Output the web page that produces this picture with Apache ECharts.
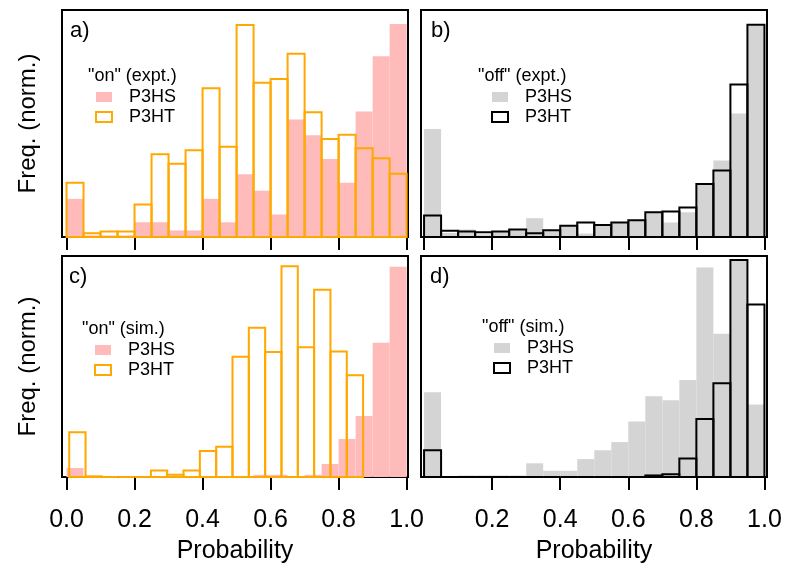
<!DOCTYPE html>
<html>
<head>
<meta charset="utf-8">
<title>Probability histograms</title>
<script src="https://cdn.jsdelivr.net/npm/echarts@6/dist/echarts.min.js"></script>
<style>
  html, body { margin: 0; padding: 0; background: #fff; }
  #main { width: 786px; height: 565px; }
</style>
</head>
<body>
<div id="main"></div>
<script>
// bin edges (probability)
var binEdges = [0, 0.05, 0.1, 0.15, 0.2, 0.25, 0.3, 0.35, 0.4, 0.45, 0.5,
  0.55, 0.6, 0.65, 0.7, 0.75, 0.8, 0.85, 0.9, 0.95, 1.0];
// P3HT simulated "on" histogram uses slightly narrower bins
var simOnHTEdges = [0.008, 0.056, 0.104, 0.152, 0.2, 0.248, 0.296, 0.344, 0.392, 0.44,
  0.488, 0.536, 0.584, 0.632, 0.68, 0.728, 0.776, 0.824, 0.872];

var xTicks = [0, 0.2, 0.4, 0.6, 0.8, 1.0];
var xTicksNoZero = [0.2, 0.4, 0.6, 0.8, 1.0];

/* a) "on" (expt.) */
var onExptHS = [16.8, 0.7, 0.7, 0.7, 6.5, 6.5, 2.9, 2.9, 16.8, 6.5, 27.6, 20.4, 9.9, 51.8, 44.8, 34.4, 23.9, 55.3, 79.6, 93.8];
var onExptHT = [23.9, 1.6, 2.4, 2.4, 14.3, 36.4, 32.3, 38.2, 65.5, 39.8, 93.4, 68.0, 69.6, 80.7, 55.0, 43.2, 45.0, 39.1, 34.7, 27.9];
/* b) "off" (expt.) */
var offExptHS = [47.6, 1.8, 3.3, 1.2, 2.4, 3.0, 8.3, 2.7, 4.7, 1.5, 5.0, 6.1, 7.1, 10.7, 6.4, 10.9, 23.1, 33.7, 54.4, 93.2];
var offExptHT = [9.5, 2.7, 2.4, 2.1, 2.4, 3.3, 1.6, 3.0, 5.0, 6.4, 5.3, 6.4, 7.4, 10.9, 11.2, 13.0, 23.4, 29.3, 67.2, 93.5];
/* c) "on" (sim.) */
var onSimHS = [4.1, 0.3, 0.2, 0.2, 0.2, 0.4, 0.4, 0.2, 0.2, 0.2, 0.4, 1.0, 1.0, 0.4, 1.0, 5.9, 17.2, 27.6, 60.7, 95.1];
var onSimHT = [20.3, 0.3, 0, 0, 0, 2.9, 1.0, 2.9, 11.8, 13.7, 54.4, 67.5, 56.6, 95.4, 58.7, 84.7, 56.8, 46.0];
/* d) "off" (sim.) */
var offSimHS = [38.4, 0, 0.7, 0.7, 0.7, 0.7, 6.2, 2.8, 2.8, 8.1, 12.1, 15.8, 25.1, 36.5, 34.7, 43.9, 94.8, 64.8, 98.2, 32.8];
var offSimHT = [12.1, 0, 0, 0, 0, 0, 0, 0, 0, 0, 0, 0, 0, 0.7, 1.3, 8.4, 26.3, 42.4, 98.2, 78.1];

var PINK = '#ffbaba';
var ORANGE = '#ffa800';
var GREY = '#d4d4d4';
var FONT = 'Liberation Sans, Arial, sans-serif';

var chart = echarts.init(document.getElementById('main'));

function toBins(edges, values) {
  var out = [];
  for (var i = 0; i < values.length; i++) {
    out.push([edges[i], edges[i + 1], values[i]]);
  }
  return out;
}

function histSeries(name, idx, edges, values, fill, stroke) {
  return {
    name: name,
    type: 'custom',
    xAxisIndex: idx,
    yAxisIndex: idx,
    clip: false,
    itemStyle: { color: fill === 'none' ? stroke : fill },
    encode: { x: [0, 1], y: 2 },
    data: toBins(edges, values),
    renderItem: function (params, api) {
      var p0 = api.coord([api.value(0), api.value(2)]);
      var p1 = api.coord([api.value(1), 0]);
      return {
        type: 'rect',
        shape: { x: p0[0], y: p0[1], width: p1[0] - p0[0], height: p1[1] - p0[1] },
        style: fill === 'none'
          ? { fill: 'none', stroke: stroke, lineWidth: 2 }
          : { fill: fill, stroke: null }
      };
    }
  };
}

// panel frames: left column / right column, top row / bottom row
var grids = [
  { left: 62, top: 10, width: 346, height: 227 },
  { left: 421, top: 10, width: 346, height: 227 },
  { left: 62, top: 256, width: 346, height: 228 },
  { left: 421, top: 256, width: 346, height: 228 }
];
var xRange = [[-0.0133, 1.004], [-0.009, 1.0075], [-0.0133, 1.004], [-0.009, 1.0075]];

function xAxisFor(i) {
  var bottom = i >= 2;
  var ticks = i === 3 ? xTicksNoZero : xTicks;
  return {
    type: 'value',
    gridIndex: i,
    min: xRange[i][0],
    max: xRange[i][1],
    axisLine: { show: false },
    splitLine: { show: false },
    axisTick: { show: true, length: 13, customValues: ticks, lineStyle: { color: '#000', width: 2 } },
    axisLabel: {
      show: bottom,
      customValues: ticks,
      margin: 31,
      color: '#000',
      fontSize: 25,
      fontFamily: FONT,
      formatter: function (v) { return v.toFixed(1); }
    },
    name: bottom ? 'Probability' : '',
    nameLocation: 'middle',
    nameGap: 62,
    nameTextStyle: { color: '#000', fontSize: 25, fontFamily: FONT }
  };
}

function yAxisFor(i) {
  var left = i % 2 === 0;
  return {
    type: 'value',
    gridIndex: i,
    min: 0,
    max: 100,
    axisLine: { show: false },
    axisTick: { show: false },
    axisLabel: { show: false },
    splitLine: { show: false },
    name: left ? 'Freq. (norm.)' : '',
    nameLocation: 'middle',
    nameRotate: 90,
    nameGap: 22,
    nameTextStyle: { color: '#000', fontSize: 24, fontFamily: FONT }
  };
}

function legendFor(tag, left, top, fill, stroke) {
  return {
    left: left,
    top: top,
    orient: 'vertical',
    padding: 0,
    itemGap: 0,
    itemWidth: 16,
    itemHeight: 10,
    icon: 'rect',
    selectedMode: false,
    textStyle: { color: '#000', fontSize: 18, fontFamily: FONT, lineHeight: 20, padding: [0, 0, 0, 12] },
    formatter: function (name) { return name.split(' ')[0]; },
    data: [
      { name: 'P3HS ' + tag, itemStyle: { color: fill, borderWidth: 0 } },
      { name: 'P3HT ' + tag, itemStyle: { color: '#fff', borderColor: stroke, borderWidth: 2 } }
    ]
  };
}

function label(text, left, top, size) {
  return {
    text: text,
    left: left,
    top: top,
    padding: 0,
    textStyle: { color: '#000', fontSize: size, fontWeight: 'normal', fontFamily: FONT }
  };
}

var option = {
  animation: false,
  backgroundColor: '#fff',
  grid: grids.map(function (g) {
    return { left: g.left, top: g.top, width: g.width, height: g.height, show: true,
      borderColor: '#000', borderWidth: 2, backgroundColor: 'transparent' };
  }),
  xAxis: [0, 1, 2, 3].map(xAxisFor),
  yAxis: [0, 1, 2, 3].map(yAxisFor),
  title: [
    label('a)', 70, 20, 22),
    label('b)', 431, 20, 22),
    label('c)', 69, 266, 22),
    label('d)', 430, 266, 22),
    label('"on" (expt.)', 88, 67, 18),
    label('"off" (expt.)', 478, 67, 18),
    label('"on" (sim.)', 82, 320, 18),
    label('"off" (sim.)', 482, 318, 18)
  ],
  legend: [
    legendFor('a', 95, 87, PINK, ORANGE),
    legendFor('b', 491, 87, GREY, '#000'),
    legendFor('c', 94, 340, PINK, ORANGE),
    legendFor('d', 493, 338, GREY, '#000')
  ],
  series: [
    histSeries('P3HS a', 0, binEdges, onExptHS, PINK),
    histSeries('P3HT a', 0, binEdges, onExptHT, 'none', ORANGE),
    histSeries('P3HS b', 1, binEdges, offExptHS, GREY),
    histSeries('P3HT b', 1, binEdges, offExptHT, 'none', '#000'),
    histSeries('P3HS c', 2, binEdges, onSimHS, PINK),
    histSeries('P3HT c', 2, simOnHTEdges, onSimHT, 'none', ORANGE),
    histSeries('P3HS d', 3, binEdges, offSimHS, GREY),
    histSeries('P3HT d', 3, binEdges, offSimHT, 'none', '#000')
  ]
};

chart.setOption(option);
</script>
</body>
</html>
